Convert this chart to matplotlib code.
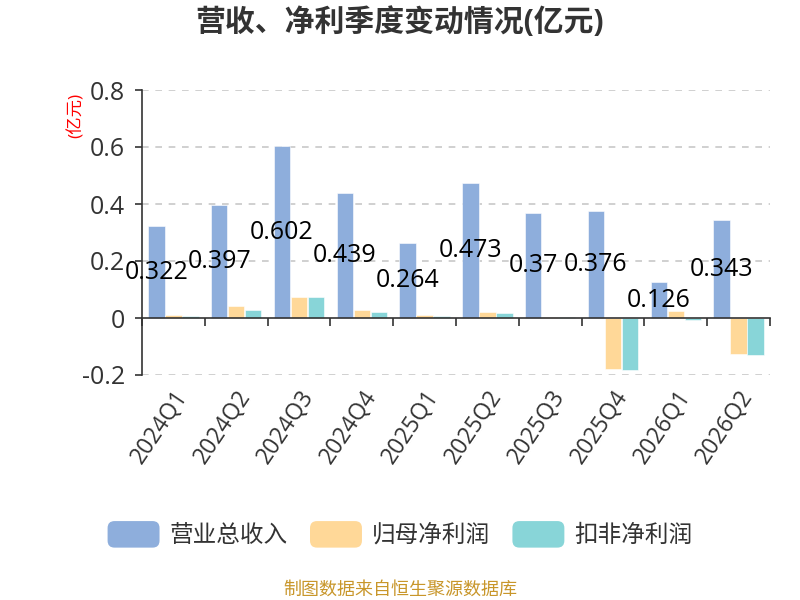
import numpy as np
import matplotlib.pyplot as plt
from matplotlib.patches import FancyBboxPatch
from matplotlib.legend_handler import HandlerPatch

plt.rcParams['font.family'] = ['Open Sans', 'Noto Sans CJK SC', 'DejaVu Sans']

quarters = ['2024Q1', '2024Q2', '2024Q3', '2024Q4', '2025Q1',
            '2025Q2', '2025Q3', '2025Q4', '2026Q1', '2026Q2']
revenue = [0.322, 0.397, 0.602, 0.439, 0.264, 0.473, 0.37, 0.376, 0.126, 0.343]
net_profit = [0.012, 0.042, 0.074, 0.028, 0.011, 0.021, 0.004, -0.178, 0.025, -0.126]
net_profit_deducted = [0.006, 0.028, 0.072, 0.022, 0.007, 0.016, 0.002, -0.183, -0.006, -0.130]
series_names = ['营业总收入', '归母净利润', '扣非净利润']
colors = ['#8EAEDC', '#FFD898', '#88D5D8']

fig = plt.figure(figsize=(8, 6), dpi=100)
ax = fig.add_axes([0.1775, 0.375, 0.785, 0.475])

x = np.arange(len(quarters))
w = 0.262
bars = []
for k, vals in enumerate([revenue, net_profit, net_profit_deducted]):
    b = ax.bar(x + (k - 1) * 0.27, vals, w, color=colors[k], edgecolor='white',
               linewidth=0.4, label=series_names[k], zorder=3)
    bars.append(b)

# labels in the middle of the revenue bars
for xi, v in zip(x, revenue):
    ax.text(xi - 0.27, v / 2, f'{v:g}', ha='center', va='center',
            fontsize=18, color='black', zorder=5)

ax.set_xlim(-0.5, len(quarters) - 0.5)
ax.set_ylim(-0.2, 0.8)
ax.set_yticks([-0.2, 0, 0.2, 0.4, 0.6, 0.8])
ax.set_yticklabels(['-0.2', '0', '0.2', '0.4', '0.6', '0.8'])
ax.tick_params(axis='y', labelsize=18, labelcolor='#333333', length=5,
               width=1.2, color='#333333', pad=7)

for yv in [-0.2, 0.2, 0.4, 0.6, 0.8]:
    ax.axhline(yv, color='#C8C8C8', linestyle=(0, (4, 4)), linewidth=1.2, zorder=1)

for s in ['top', 'right']:
    ax.spines[s].set_visible(False)
ax.spines['left'].set_color('#333333')
ax.spines['left'].set_linewidth(1.2)
ax.spines['bottom'].set_position(('data', 0))
ax.spines['bottom'].set_color('#333333')
ax.spines['bottom'].set_linewidth(1.2)
ax.spines['bottom'].set_zorder(4)

ax.set_xticks(np.arange(-0.5, len(quarters)), minor=False)
ax.set_xticklabels([])
ax.tick_params(axis='x', which='major', length=6, width=1.2, color='#333333', direction='out')
ax.set_xticks(x, minor=True)
ax.set_xticklabels(quarters, minor=True, rotation=56, ha='right', rotation_mode='anchor')
ax.tick_params(axis='x', which='minor', length=0, pad=49, labelsize=16.5, labelcolor='#333333')

ax.text(-0.105, 0.912, '(亿元)', transform=ax.transAxes, rotation=90, color='red',
        fontsize=12.5, ha='center', va='center')

fig.text(0.5, 0.963, '营收、净利季度变动情况(亿元)', ha='center', va='center',
         fontsize=21.5, fontweight='bold', color='#333333')


class RoundHandler(HandlerPatch):
    def create_artists(self, legend, orig_handle, xdescent, ydescent, width, height, fontsize, trans):
        p = FancyBboxPatch((-xdescent, -ydescent - 3), width, height + 5,
                           boxstyle='round,pad=0,rounding_size=5',
                           facecolor=orig_handle.patches[0].get_facecolor(),
                           edgecolor='none', transform=trans)
        return [p]


leg = fig.legend(handles=bars, labels=series_names, loc='center', bbox_to_anchor=(0.5, 0.107),
                 ncol=3, frameon=False, fontsize=17, handlelength=2.2, handleheight=0.9,
                 columnspacing=0.95, handletextpad=0.42,
                 handler_map={b: RoundHandler() for b in bars})
for t in leg.get_texts():
    t.set_color('#333333')

fig.text(0.5, 0.018, '制图数据来自恒生聚源数据库', ha='center', va='center',
         fontsize=13, color='#C8962A')

fig.savefig('out.png', dpi=100)
